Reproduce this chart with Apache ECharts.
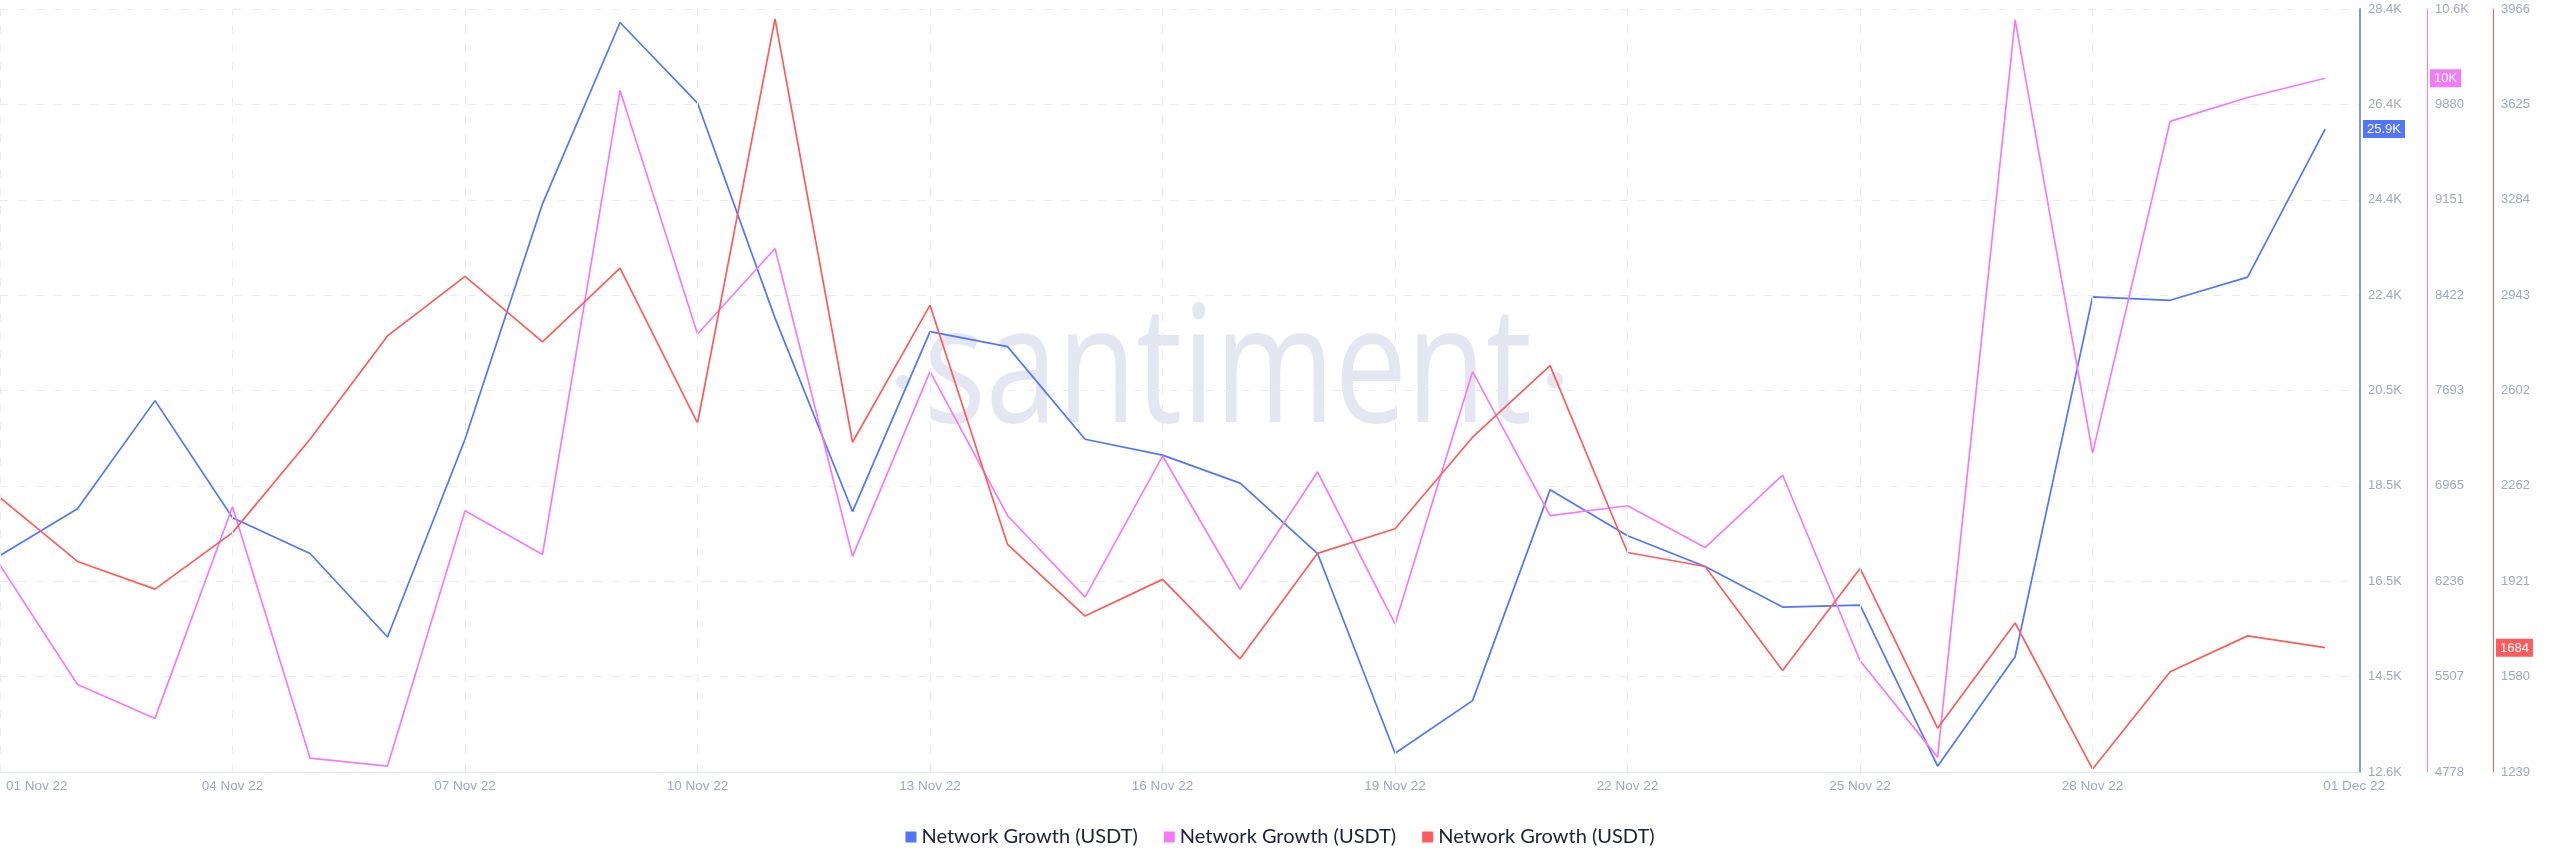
<!DOCTYPE html>
<html><head><meta charset="utf-8">
<script src="https://cdn.jsdelivr.net/npm/echarts@6/dist/echarts.min.js"></script>
<style>html,body{margin:0;padding:0;background:#fff}#c{width:2560px;height:867px}</style>
</head><body><div id="c"></div>
<script>
const dates = ['01 Nov 22','02 Nov 22','03 Nov 22','04 Nov 22','05 Nov 22','06 Nov 22','07 Nov 22','08 Nov 22','09 Nov 22','10 Nov 22',
  '11 Nov 22','12 Nov 22','13 Nov 22','14 Nov 22','15 Nov 22','16 Nov 22','17 Nov 22','18 Nov 22','19 Nov 22','20 Nov 22',
  '21 Nov 22','22 Nov 22','23 Nov 22','24 Nov 22','25 Nov 22','26 Nov 22','27 Nov 22','28 Nov 22','29 Nov 22','30 Nov 22','01 Dec 22'];
const blueValues = [17100,18070,20310,17880,17140,15410,19510,24390,28150,26480,22020,18010,21740,21430,19510,19180,18600,17140,13000,14090,18460,17510,16870,16030,16070,12730,15000,22460,22390,22870,25940];
const pinkValues = [6358,5447,5188,6806,4885,4824,6775,6441,9987,8126,8779,6426,7838,6737,6115,7193,6175,7071,5910,7838,6737,6813,6494,7048,5629,4892,10526,7215,9751,9933,10080];
const redValues = [2220,1992,1893,2095,2429,2798,3011,2777,3040,2486,3931,2418,2908,2053,1797,1928,1644,2021,2109,2436,2692,2024,1974,1602,1967,1396,1772,1250,1598,1726,1684];
const blueTicks = ['12.6K','14.5K','16.5K','18.5K','20.5K','22.4K','24.4K','26.4K','28.4K'];
const pinkTicks = ['4778','5507','6236','6965','7693','8422','9151','9880','10.6K'];
const redTicks = ['1239','1580','1921','2262','2602','2943','3284','3625','3966'];
const blueRange = [12610, 28430];
const pinkRange = [4778.5, 10609.3];
const redRange = [1239.5, 3966.5];
const gridDays = [0,3,6,9,12,15,18,21,24,27];
const seriesName = 'Network Growth (USDT)';

const C_BLUE = '#5275ff', C_PINK = '#f47bf7', C_RED = '#ff5b5b';
const AX_TXT = '#a0a9c2', GRID_C = '#e8eaf4';

function fmt(v){
  if (Math.abs(v) >= 10000) { let k = Math.floor(v/100)/10; return (k % 1 === 0 ? k.toFixed(0) : k.toFixed(1)) + 'K'; }
  return String(Math.floor(v));
}
function tickFmt(range, ticks){
  const step = (range[1]-range[0])/8;
  return function(v){ const i = Math.round((v-range[0])/step); return ticks[i] !== undefined ? ticks[i] : ''; };
}
function yAxisDef(range, ticks, color, bg, lw, offset, val, split){
  return {
    type:'value', position:'right', offset: offset, min: range[0], max: range[1], interval: (range[1]-range[0])/8,
    axisLine:{show:true, onZero:false, lineStyle:{color: color, width: lw}},
    axisTick:{show:false},
    axisLabel:{show:true, margin:8, color: AX_TXT, fontSize:13, fontFamily:'Liberation Sans, Arial, sans-serif', formatter: tickFmt(range, ticks)},
    splitLine:{show: split, lineStyle:{color: GRID_C, type:[8,10], width:1}},
    axisPointer:{show:true, type:'none', value: val, status:'show', snap:false, triggerTooltip:false,
      lineStyle:{opacity:0},
      label:{show:true, backgroundColor: bg, color:'#fff', padding:[3,4,2,4], fontSize:13,
        fontFamily:'Liberation Sans, Arial, sans-serif', margin:3, borderRadius:0, formatter: p => fmt(p.value)}}
  };
}
const mk = vals => vals.map((v,i)=>[i,v]);

const ctx = document.createElement('canvas').getContext('2d');
ctx.font = '163px "Open Sans"';
const wmW = ctx.measureText('santiment').width;
const wmScale = 608 / wmW;
const WM_C = '#e4e7f2';

const chart = echarts.init(document.getElementById('c'), null, {renderer:'canvas'});
chart.setOption({
  animation:false,
  backgroundColor:'#ffffff',
  axisPointer:{type:'none', lineStyle:{opacity:0}},
  grid:{left:0, right:200, top:9, bottom:95, containLabel:false},
  graphic:[
    {type:'text', x:924, y:376, z:-10, scaleX: wmScale, silent:true,
      style:{text:'santiment', font:'163px "Open Sans"', fill:WM_C, align:'left', verticalAlign:'middle'}},
    {type:'circle', x:903, y:382, z:-10, silent:true, shape:{r:7}, style:{fill:WM_C}},
    {type:'circle', x:1555, y:380, z:-10, silent:true, shape:{r:8}, style:{fill:WM_C}}
  ],
  legend:{
    data:['blue','pink','red'], left:'center', top:822, icon:'rect', itemWidth:11, itemHeight:11, itemGap:26,
    formatter: () => seriesName,
    textStyle:{color:'#1c2138', fontSize:20, fontFamily:'Lato, sans-serif'}
  },
  xAxis:{
    type:'value', min:0, max:30.45, interval:3,
    axisLine:{show:true, onZero:false, lineStyle:{color:'#e3e6f0', width:1}},
    axisTick:{show:false},
    splitLine:{show:false},
    axisPointer:{show:false, type:'none', lineStyle:{opacity:0}, label:{show:false}},
    axisLabel:{
      margin:7, color: AX_TXT, fontSize:13.5, fontFamily:'Liberation Sans, Arial, sans-serif', alignMinLabel:'left',
      formatter: v => {
        if (Math.abs(v - Math.round(v)) > 1e-6) return '';
        const i = Math.round(v);
        if (i === 0) return '{l|' + dates[0] + '}';
        if (i === dates.length - 1) return '{r|' + dates[i] + '}';
        return dates[i] || '';
      },
      rich:{
        l:{padding:[0,0,0,6], color: AX_TXT, fontSize:13.5, fontFamily:'Liberation Sans, Arial, sans-serif'},
        r:{padding:[0,0,0,58], color: AX_TXT, fontSize:13.5, fontFamily:'Liberation Sans, Arial, sans-serif'}
      }
    }
  },
  yAxis:[
    yAxisDef(blueRange, blueTicks, '#7d95ff', C_BLUE, 2, 0, blueValues[blueValues.length-1], true),
    yAxisDef(pinkRange, pinkTicks, C_PINK, C_PINK, 1, 67, pinkValues[pinkValues.length-1], false),
    yAxisDef(redRange, redTicks, C_RED, C_RED, 1, 133, redValues[redValues.length-1], false)
  ],
  series:[
    {name:'grid', type:'line', data:[], yAxisIndex:0, z:1, silent:true, color: GRID_C,
      markLine:{silent:true, symbol:['none','none'], label:{show:false}, animation:false,
        lineStyle:{color: GRID_C, type:[8,10], width:1},
        data: gridDays.map(d => ({xAxis:d}))}},
    {name:'blue', type:'line', yAxisIndex:0, data: mk(blueValues), showSymbol:false, color:C_BLUE, lineStyle:{width:1.7, color:C_BLUE}, z:3},
    {name:'pink', type:'line', yAxisIndex:1, data: mk(pinkValues), showSymbol:false, color:C_PINK, lineStyle:{width:1.7, color:C_PINK}, z:3},
    {name:'red', type:'line', yAxisIndex:2, data: mk(redValues), showSymbol:false, color:C_RED, lineStyle:{width:1.7, color:C_RED}, z:3}
  ]
});
</script></body></html>
